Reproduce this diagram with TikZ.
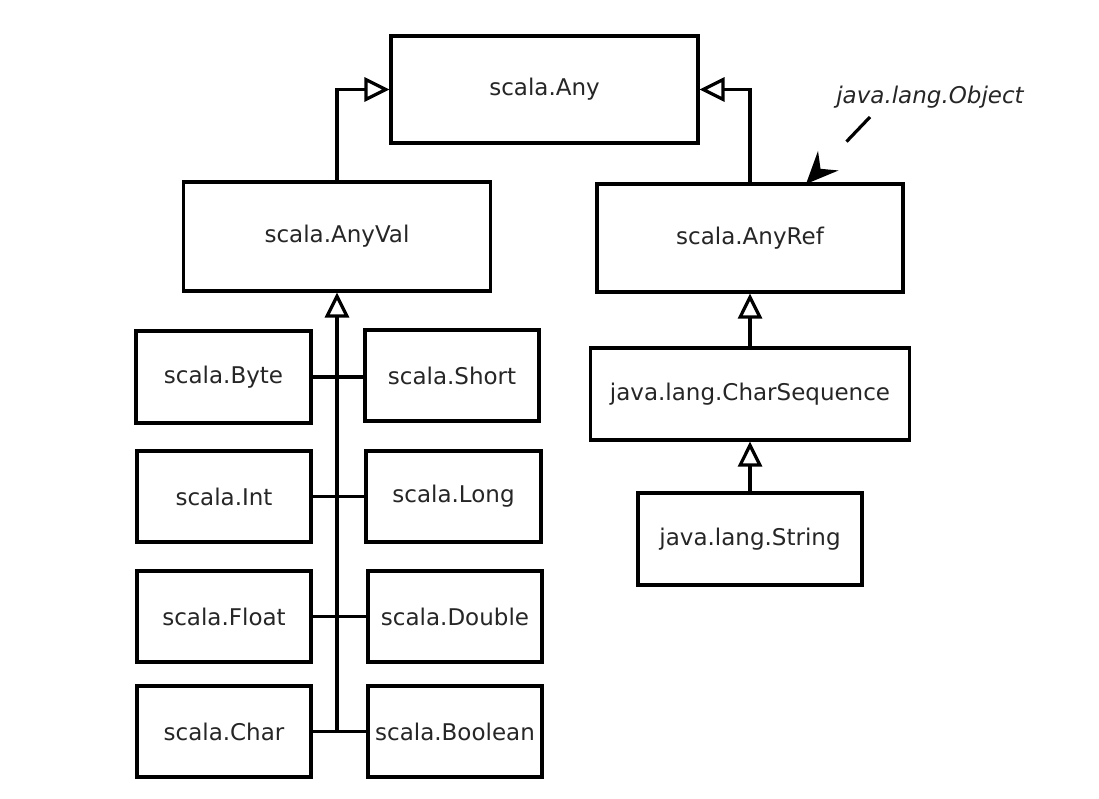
\documentclass[tikz,border=0pt]{standalone}
\usepackage{fontspec}
\setmainfont{DejaVu Sans}
\usetikzlibrary{arrows.meta}
\definecolor{txt}{RGB}{38,38,38}
\begin{document}
\begin{tikzpicture}[x=1pt,y=-1pt,
  box/.style={draw=black, line width=3.2pt, inner sep=0pt, text=txt, font=\fontsize{23}{28}\selectfont},
  inh/.style={line width=3.2pt, -{Triangle[open,length=25pt,width=24pt]}},
  link/.style={line width=3.2pt},
  note/.style={text=txt, font=\fontsize{23}{28}\selectfont\itshape}]
\useasboundingbox (0,0) rectangle (1099,799);
\fill[white] (0,0) rectangle (1099,799);
\node[box, minimum width=307pt, minimum height=107pt] (any) at (544.5,89.5) {scala.Any};
\node[box, minimum width=307pt, minimum height=109pt] (anyval) at (337,236.5) {scala.AnyVal};
\node[box, minimum width=306pt, minimum height=108pt] (anyref) at (750,238) {scala.AnyRef};
\node[box, minimum width=175pt, minimum height=92pt] (byte) at (223.5,377) {scala.Byte};
\node[box, minimum width=174pt, minimum height=91pt] (short) at (452,375.5) {scala.Short};
\node[box, minimum width=174pt, minimum height=91pt] (int) at (224,496.5) {scala.Int};
\node[box, minimum width=175pt, minimum height=91pt] (long) at (453.5,496.5) {scala.Long};
\node[box, minimum width=174pt, minimum height=91pt] (float) at (224,616.5) {scala.Float};
\node[box, minimum width=174pt, minimum height=91pt] (double) at (455,616.5) {scala.Double};
\node[box, minimum width=174pt, minimum height=91pt] (char) at (224,731.5) {scala.Char};
\node[box, minimum width=174pt, minimum height=91pt] (boolean) at (455,731.5) {scala.Boolean};
\node[box, minimum width=319pt, minimum height=92pt] (charseq) at (750,394) {java.lang.CharSequence};
\node[box, minimum width=224pt, minimum height=92pt] (string) at (750,539) {java.lang.String};
\node[note] (objlabel) at (930,97) {java.lang.Object};
\coordinate (objtail) at (870,117);
\coordinate (objtip) at (806,184);
\coordinate (trunkbot) at (337,732);
% inheritance
\draw[inh] (anyval.north) |- (any.west);
\draw[inh] (anyref.north) |- (any.east);
\draw[inh] (trunkbot) -- (anyval.south);
\draw[inh] (charseq.north) -- (anyref.south);
\draw[inh] (string.north) -- (charseq.south);
% value class links
\draw[link] (byte.east) -- (byte.east -| short.west);
\draw[link] (int.east) -- (long.west);
\draw[link] (float.east) -- (double.west);
\draw[link] (char.east) -- (boolean.west);
% annotation
\draw[line width=3.2pt, dash pattern=on 34pt off 200pt, -{Stealth[length=32pt,width=28pt,inset=11pt]}] (objtail) -- (objtip);
\end{tikzpicture}
\end{document}
